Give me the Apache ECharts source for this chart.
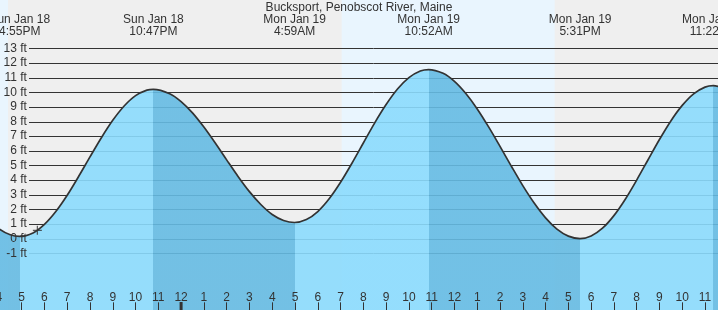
<!DOCTYPE html>
<html><head><meta charset="utf-8">
<style>html,body{margin:0;padding:0;background:#efefef;overflow:hidden}#c{width:718px;height:310px}</style>
<script src="https://cdn.jsdelivr.net/npm/echarts@6/dist/echarts.min.js"></script>
</head><body><div id="c"></div>
<script>
const chartTitle = 'Bucksport, Penobscot River, Maine';
// tide curve: hours since Sun Jan 18 00:00, height in feet
const curveHours = [15, 15.5, 16, 16.5, 16.917, 17.5, 18, 18.5, 19, 19.5, 20, 20.5, 21, 21.5, 22, 22.5, 22.783,
  23.5, 24, 24.5, 25, 25.5, 26, 26.5, 27, 27.5, 28, 28.5, 28.983,
  29.5, 30, 30.5, 31, 31.5, 32, 32.5, 33, 33.5, 34, 34.5, 34.867,
  35.5, 36, 36.5, 37, 37.5, 38, 38.5, 39, 39.5, 40, 40.5, 41, 41.517,
  42, 42.5, 43, 43.5, 44, 44.5, 45, 45.5, 46, 46.5, 47, 47.367, 48];
const curveFeet = [2.33, 1.38, 0.68, 0.26, 0.15, 0.39, 0.97, 1.85, 2.96, 4.24, 5.58, 6.89, 8.08, 9.06, 9.77, 10.14, 10.2,
  9.90, 9.36, 8.59, 7.62, 6.53, 5.38, 4.25, 3.21, 2.33, 1.65, 1.24, 1.1,
  1.30, 1.85, 2.72, 3.85, 5.15, 6.53, 7.91, 9.16, 10.22, 11.00, 11.45, 11.55,
  11.29, 10.74, 9.91, 8.86, 7.63, 6.30, 4.94, 3.62, 2.43, 1.42, 0.65, 0.17, 0.0,
  0.18, 0.71, 1.57, 2.69, 4.00, 5.39, 6.77, 8.04, 9.10, 9.89, 10.35, 10.45, 10.19];
// high / low tides
const extremeHours = [16.917, 22.783, 28.983, 34.867, 41.517, 47.367];
const extremeType  = ['L', 'H', 'L', 'H', 'L', 'H'];
const extremeDay   = ['Sun Jan 18', 'Sun Jan 18', 'Mon Jan 19', 'Mon Jan 19', 'Mon Jan 19', 'Mon Jan 19'];
const extremeTime  = ['4:55PM', '10:47PM', '4:59AM', '10:52AM', '5:31PM', '11:22PM'];
// daylight periods
const dayStartHours = [15.0, 31.05];
const dayEndHours   = [16.40, 40.40];
// axes
const yTicks = [-1, 0, 1, 2, 3, 4, 5, 6, 7, 8, 9, 10, 11, 12, 13];
const hourTicks  = [16,17,18,19,20,21,22,23,24,25,26,27,28,29,30,31,32,33,34,35,36,37,38,39,40,41,42,43,44,45,46,47,48];
const hourLabels = ['4','5','6','7','8','9','10','11','12','1','2','3','4','5','6','7','8','9','10','11','12','1','2','3','4','5','6','7','8','9','10','11','12'];
const midnightHours = [24];
// current time marker
const nowHours = [17.69];
const nowFeet  = [0.57];

const FONT = '"Liberation Sans", Arial, sans-serif';
const TXT = '#333';
const EBB = 'rgb(101,187,227)';
const FLOOD = 'rgb(139,219,253)';

const pieces = [];
for (let i = 0; i <= extremeHours.length; i++) {
  const p = {};
  if (i > 0) p.gte = extremeHours[i - 1];
  if (i < extremeHours.length) { p.lt = extremeHours[i]; p.color = extremeType[i] === 'L' ? EBB : FLOOD; }
  else { p.color = extremeType[i - 1] === 'H' ? EBB : FLOOD; }
  pieces.push(p);
}

const chart = echarts.init(document.getElementById('c'), null, {renderer: 'canvas'});
chart.setOption({
  animation: false,
  backgroundColor: '#efefef',
  title: {text: chartTitle, left: 'center', top: 1.5, padding: 0,
    textStyle: {fontSize: 12, fontWeight: 'normal', color: TXT, fontFamily: FONT}},
  grid: {left: -1.14, right: -9.8, top: 48.3, bottom: -1.82, containLabel: false, outerBoundsMode: 'none'},
  xAxis: {type: 'value', min: 16, max: 48, interval: 1, z: 10,
    axisLine: {show: false, onZero: false}, splitLine: {show: false},
    axisTick: {inside: true, length: 9.5, lineStyle: {color: TXT, width: 1}},
    axisLabel: {inside: true, margin: 8.5, color: TXT, fontSize: 12, fontFamily: FONT,
      formatter: v => { const i = hourTicks.indexOf(v); return i >= 0 ? hourLabels[i] : ''; }}},
  yAxis: {type: 'value', min: -5, max: 13, interval: 1, z: 10,
    axisLine: {show: false, onZero: false}, axisTick: {show: false}, splitLine: {show: false},
    axisLabel: {inside: true, align: 'right', margin: 28, color: TXT, fontSize: 12, fontFamily: FONT,
      showMinLabel: true, showMaxLabel: true,
      formatter: v => yTicks.indexOf(v) >= 0 ? v + ' ft' : ''}},
  visualMap: {show: false, type: 'piecewise', dimension: 0, seriesIndex: 2, pieces: pieces},
  series: [
    { // daylight bands
      type: 'custom', z: 0, clip: false, silent: true,
      data: dayStartHours.map((s, i) => [s, dayEndHours[i]]),
      renderItem: (params, api) => {
        const x1 = api.coord([api.value(0), 0])[0];
        const x2 = api.coord([api.value(1), 0])[0];
        return {type: 'rect', shape: {x: x1, y: 0, width: x2 - x1, height: api.getHeight()},
          style: {fill: '#e9f5fe'}};
      }
    },
    { // horizontal grid lines
      type: 'custom', z: 1, clip: false, silent: true,
      data: yTicks.map(v => [16, v]),
      renderItem: (params, api) => {
        const y = Math.round(api.coord([api.value(0), api.value(1)])[1]) + 0.5;
        return {type: 'line', shape: {x1: 29, y1: y, x2: api.getWidth(), y2: y},
          style: {stroke: '#333', lineWidth: 1}};
      }
    },
    { // tide curve
      type: 'line', z: 2, smooth: 0.3, symbol: 'none', silent: true,
      data: curveHours.map((h, i) => [h, curveFeet[i]]),
      lineStyle: {color: '#333', width: 1.7},
      areaStyle: {opacity: 0.9, origin: 'start'}
    },
    { // current time marker
      type: 'scatter', z: 4, silent: true,
      data: nowHours.map((h, i) => [h, nowFeet[i]]),
      symbol: 'path://M4,0L4,8M0,4L8,4', symbolSize: 9,
      itemStyle: {color: 'rgba(0,0,0,0)', borderColor: '#333', borderWidth: 1.2}
    },
    { // tide labels
      type: 'custom', z: 5, clip: false, silent: true,
      data: extremeHours.map(h => [h, 0]),
      renderItem: (params, api) => {
        const x = api.coord([api.value(0), 0])[0];
        const i = params.dataIndex;
        const st = t => ({text: t, fill: TXT, fontSize: 12, fontFamily: FONT, align: 'center', verticalAlign: 'middle'});
        return {type: 'group', children: [
          {type: 'text', x: x, y: 19.5, style: st(extremeDay[i])},
          {type: 'text', x: x, y: 31.5, style: st(extremeTime[i])}
        ]};
      }
    },
    { // midnight tick
      type: 'custom', z: 11, clip: false, silent: true,
      data: midnightHours.map(h => [h, -5]),
      renderItem: (params, api) => {
        const x = api.coord([api.value(0), 0])[0];
        return {type: 'rect', shape: {x: x - 1.5, y: 302, width: 3, height: 8}, style: {fill: '#333'}};
      }
    }
  ]
});
</script>
</body></html>
